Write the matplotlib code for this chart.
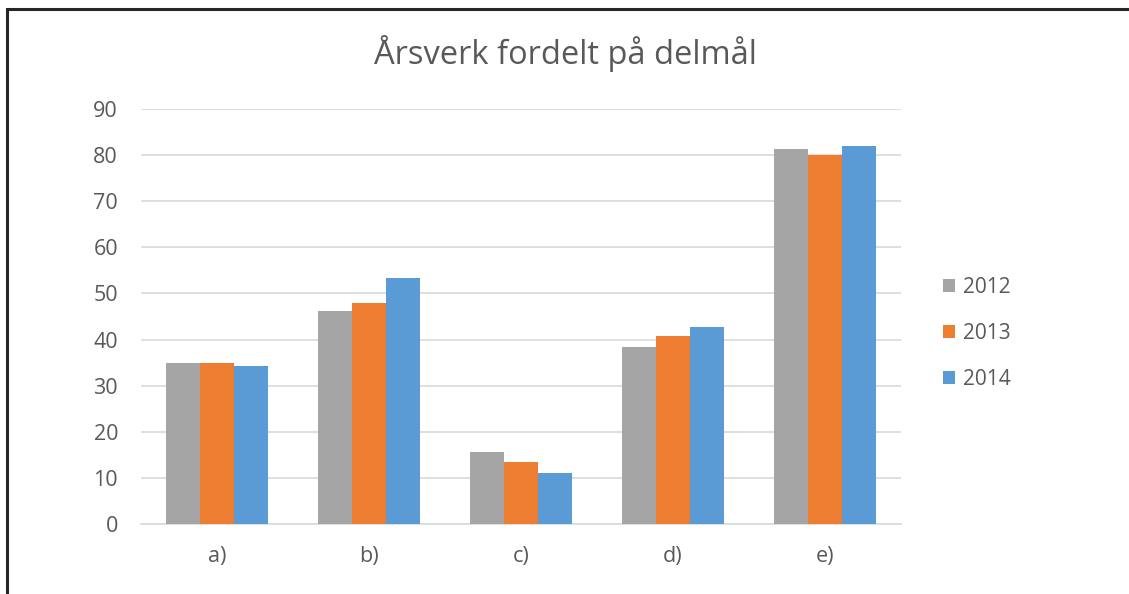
import matplotlib
matplotlib.use("Agg")
import matplotlib.pyplot as plt
import numpy as np
from matplotlib.patches import Rectangle

categories = ["a)", "b)", "c)", "d)", "e)"]
years = ["2012", "2013", "2014"]
v2012 = [35.0, 46.2, 15.6, 38.4, 81.4]
v2013 = [35.0, 48.0, 13.4, 40.8, 80.1]
v2014 = [34.3, 53.3, 11.0, 42.7, 82.0]
colors = ["#a5a5a5", "#ed7d31", "#5b9bd5"]
yticks = [0, 10, 20, 30, 40, 50, 60, 70, 80, 90]

plt.rcParams['font.family'] = ['Open Sans', 'DejaVu Sans']
txt = "#595959"

fig = plt.figure(figsize=(11.29, 5.94), dpi=100)
fig.patches.append(Rectangle((7/1129, -0.1), 1.2, 1 - 9.5/594 + 0.1, transform=fig.transFigure,
                             fill=False, edgecolor="#262626", linewidth=2.2))
ax = fig.add_axes([141/1129, 1 - 524/594, 760/1129, 415/594])

x = np.arange(len(categories))
w = 0.222
for i, (vals, c, lab) in enumerate(zip([v2012, v2013, v2014], colors, years)):
    ax.bar(x + (i - 1) * w, vals, width=w, color=c, label=lab, zorder=3)

ax.set_xlim(-0.5, len(categories) - 0.5)
ax.set_ylim(0, 90)
ax.set_yticks(yticks)
ax.set_xticks(x)
ax.set_xticklabels(categories)
ax.grid(axis='y', color='#d9d9d9', linewidth=1.2, zorder=0)
for s in ['top', 'right', 'left']:
    ax.spines[s].set_visible(False)
ax.spines['bottom'].set_color('#d9d9d9')
ax.spines['bottom'].set_linewidth(1.2)
ax.tick_params(axis='both', length=0, labelsize=15.5, colors=txt)
ax.tick_params(axis='y', pad=16.5)
ax.tick_params(axis='x', pad=16)

fig.text(565/1129, 1 - 54/594, "Årsverk fordelt på delmål", ha='center', va='center',
         fontsize=23.5, color=txt)

leg = ax.legend(loc='center left', bbox_to_anchor=(1.03, 0.46), frameon=False,
                fontsize=15, labelcolor=txt, handlelength=0.62, handleheight=0.62,
                handletextpad=0.35, labelspacing=1.2)

fig.savefig("out.png", dpi=100)
